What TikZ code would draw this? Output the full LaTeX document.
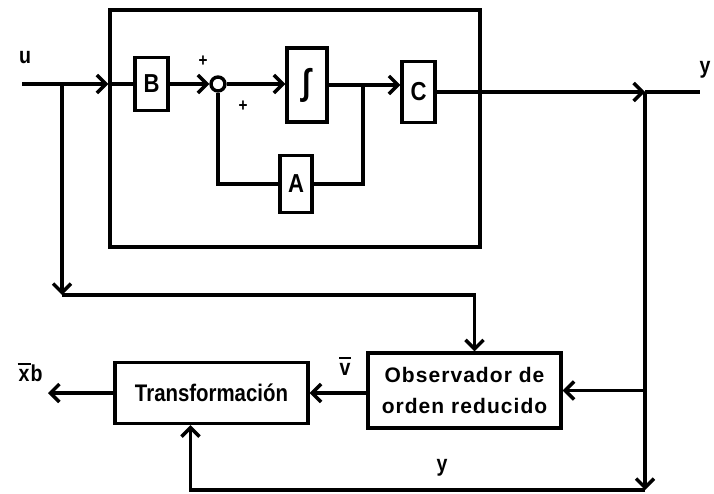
\documentclass[tikz,border=0pt]{standalone}
\usepackage{fontspec}
\setmainfont{Liberation Sans}[FakeStretch=0.85]
\newfontfamily\obsfont{Liberation Sans}[LetterSpace=5]
\usetikzlibrary{arrows.meta, positioning}

\begin{document}
\begin{tikzpicture}[
  x=1pt, y=-1pt,
  wire/.style={line width=3.4pt},
  blk/.style={draw, line width=3.4pt, inner sep=0pt,
              font=\fontsize{26}{26}\selectfont\bfseries},
  sumnode/.style={draw, circle, minimum size=14pt, inner sep=0pt, line width=3.4pt},
  arr/.style={wire, -{Straight Barb[length=9pt, width=18pt]}},
  lbl/.style={font=\fontsize{23}{23}\selectfont\bfseries, inner sep=0pt},
  sgn/.style={font=\fontsize{18}{18}\selectfont\bfseries, inner sep=0pt},
]
\useasboundingbox (0,0) rectangle (714,494);

% plant
\node[draw, line width=3.4pt, minimum width=370pt, minimum height=237pt] (plant) at (295,128.5) {};
\node[blk, minimum width=33pt, minimum height=53pt] (B) at (151.5,84) {B};
\node[sumnode] (sum) at (218,84) {};
\node[blk, minimum width=40pt, minimum height=74pt] (integ) at (307,85)
  {\fontsize{36}{36}\selectfont ∫};
\node[blk, minimum width=33pt, minimum height=61pt] (C) at (418.5,92) {C};
\node[blk, minimum width=32pt, minimum height=57pt] (A) at (296,184) {A};
\node[sgn] (plus1) at (203,61) {+};
\node[sgn] (plus2) at (243,106) {+};

% observer side
\node[blk, minimum width=193pt, minimum height=75pt, align=center,
      font=\fontsize{21}{31}\selectfont\bfseries\obsfont] (obs) at (464.5,390.5)
  {Observador de\\orden reducido};
\node[blk, minimum width=193pt, minimum height=61pt,
      font=\fontsize{24}{24}\selectfont\bfseries] (trans) at (211.5,393) {Transformación};

\coordinate (uin) at (22,84);
\coordinate (ubr) at (62,84);
\coordinate (ucorner) at (62,295);
\coordinate (fb) at (363,85);
\coordinate (ybr) at (645,92);
\coordinate (yout) at (700,92);
\coordinate (ybot) at (645,490);
\coordinate (xout) at (48,393);

\node[lbl] (ulbl) at (25,58) {u};
\node[lbl] (ylbl) at (705,70) {y};
\node[lbl] (vlbl) at (345,366) {\shortstack{\rule{12pt}{2.5pt}\\[1pt]v}};
\node[lbl] (xlbl) at (30,372) {\shortstack{\rule{13pt}{2.5pt}\\[1pt]x}b};
\node[lbl] (ylbl2) at (442,468) {y};

% plant wires
\draw[arr] (uin) -- (uin -| plant.west);
\draw[wire] (uin -| plant.west) -- (B.west);
\draw[arr] (B.east) -- (sum.west);
\draw[arr] (sum.east) -- (sum.east -| integ.west);
\draw[arr] (integ.east) -- (integ.east -| C.west);
\draw[wire] (fb) |- (A.east);
\draw[wire] (A.west) -| (sum.south);

% outputs and feedback
\draw[arr] (C.east) -- (ybr);
\draw[wire] (ybr) -- (yout);
\draw[arr] (ybr) -- (ybot);
\draw[arr] (ybr |- obs.east) -- (obs.east);
\draw[arr] (ybot) -| ([xshift=-21pt]trans.south);
\draw[arr] (ubr) -- (ucorner);
\draw[arr] (ucorner) -| ([xshift=10pt]obs.north);
\draw[arr] (obs.west |- trans.east) -- (trans.east);
\draw[arr] (trans.west) -- (xout);
\end{tikzpicture}
\end{document}
